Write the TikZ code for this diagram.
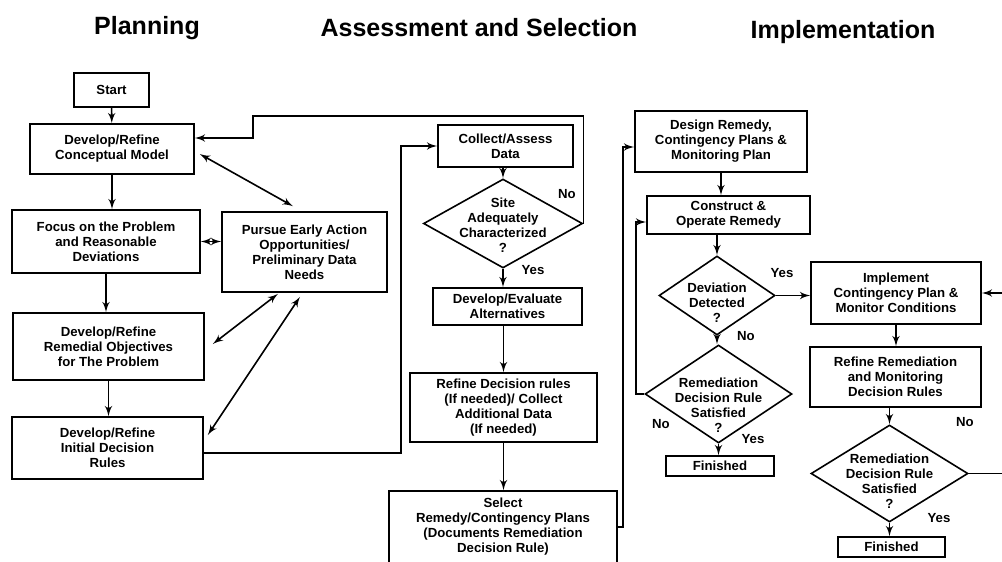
\documentclass[tikz,border=0pt]{standalone}
\usepackage{fontspec}
\setmainfont{Liberation Sans}
\usetikzlibrary{arrows,calc,shapes.geometric}

\begin{document}
\begin{tikzpicture}[x=0.5pt, y=-0.5pt, >=latex', thick,
    every node/.style={font=\fontsize{6.6}{7.5}\selectfont\bfseries},
    box/.style={draw, rectangle, align=center, inner sep=1pt},
    dec/.style={draw, diamond, inner sep=0pt},
    dectext/.style={align=center, inner sep=0pt},
    head/.style={font=\fontsize{12.5}{14}\selectfont\bfseries},
    lbl/.style={inner sep=0pt}]
\useasboundingbox (0,0) rectangle (1002,562);
\clip (0,0) rectangle (1002,562);

% column heads
\node[head] (hplan) at (147,28) {Planning};
\node[head] (hassess) at (479,28) {Assessment and Selection};
\node[head] (himpl) at (843,32) {Implementation};

% planning
\node[box, minimum width=37.5pt, minimum height=17pt] (start) at (111.5,90) {Start};
\node[box, minimum width=82pt, minimum height=25pt] (concept) at (112,149) {Develop/Refine\\Conceptual Model};
\node[box, minimum width=94pt, minimum height=31.5pt] (focus) at (106,241.5) {Focus on the Problem\\and Reasonable\\Deviations};
\node[box, minimum width=82.5pt, minimum height=40pt] (pursue) at (304.5,252) {Pursue Early Action\\Opportunities/\\Preliminary Data\\Needs};
\node[box, minimum width=95.5pt, minimum height=33.5pt] (remobj) at (108.5,346.5) {Develop/Refine\\Remedial Objectives\\for The Problem};
\node[box, minimum width=95.5pt, minimum height=31pt] (initrules) at (107.5,448) {Develop/Refine\\Initial Decision\\Rules};

% assessment and selection
\node[box, minimum width=67.5pt, minimum height=21pt] (collect) at (505.5,146) {Collect/Assess\\Data};
\node[dec, minimum width=79.5pt, minimum height=44.5pt,
  label={[dectext, yshift=-0.8pt]center:Site\\Adequately\\Characterized\\?}] (site) at (503,223.5) {};
\node[box, minimum width=74.5pt, minimum height=18.5pt] (alts) at (507.5,306.5) {Develop/Evaluate\\Alternatives};
\node[box, minimum width=93.5pt, minimum height=34.5pt] (refine) at (503.5,407.5) {Refine Decision rules\\(If needed)/ Collect\\Additional Data\\(If needed)};
\node[box, minimum width=114pt, minimum height=36pt] (select) at (503,527) {Select\\Remedy/Contingency Plans\\(Documents Remediation\\Decision Rule)};

% implementation
\node[box, minimum width=86pt, minimum height=30.5pt] (design) at (721,141.5) {Design Remedy,\\Contingency Plans \&\\Monitoring Plan};
\node[box, minimum width=81.5pt, minimum height=19pt] (build) at (728.5,215) {Construct \&\\Operate Remedy};
\node[dec, minimum width=58pt, minimum height=39.5pt,
  label={[dectext, yshift=-3.7pt]center:Deviation\\Detected\\?}] (dev) at (717,295.5) {};
\node[dec, minimum width=73.5pt, minimum height=49pt,
  label={[dectext, yshift=-5.5pt]center:Remediation\\Decision Rule\\Satisfied\\?}] (remok) at (718.5,394) {};
\node[box, minimum width=54pt, minimum height=10pt, inner sep=0pt] (done) at (720,466) {Finished};
\node[box, minimum width=85pt, minimum height=31pt] (contplan) at (896,293) {Implement\\Contingency Plan \&\\Monitor Conditions};
\node[box, minimum width=85.5pt, minimum height=30pt] (refrules) at (895.5,377) {Refine Remediation\\and Monitoring\\Decision Rules};
\node[dec, minimum width=78.5pt, minimum height=48.5pt,
  label={[dectext, yshift=-3.8pt]center:Remediation\\Decision Rule\\Satisfied\\?}] (remok2) at (889.5,473.5) {};
\node[box, minimum width=53.5pt, minimum height=10pt, inner sep=0pt] (done2) at (891.5,547) {Finished};

% yes/no labels
\node[lbl] (sitno) at (567,194) {No};
\node[lbl] (sityes) at (533,270) {Yes};
\node[lbl] (devyes) at (782,273) {Yes};
\node[lbl] (devno) at (746,336) {No};
\node[lbl] (remno) at (661,424) {No};
\node[lbl] (remyes) at (753,439) {Yes};
\node[lbl] (rem2no) at (965,422) {No};
\node[lbl] (rem2yes) at (939,518) {Yes};

% corners of the loops
\coordinate (j1) at (401,146);
\coordinate (j2) at (253,116);
\coordinate (j3) at (623,147);
\coordinate (j4) at (636,222);
\coordinate (j5) at (1010,473.5);

% planning arrows
\draw[->] (start) -- (concept);
\draw[->] (concept.south) -- (concept.south |- focus.north);
\draw[<->] (focus.east) -- (focus.east -| pursue.west);
\draw[<->] ($(concept.east)+(5,5)$) -- ($(pursue.north)+(-11.5,-5)$);
\draw[->] (focus.south) -- (focus.south |- remobj.north);
\draw[<->] ($(remobj.east)+(8,-2.5)$) -- ($(pursue.south)+(-26.5,1)$);
\draw[<->] ($(initrules.east)+(4,-13)$) -- ($(pursue.south)+(-4.5,4)$);
\draw[->] (remobj.south) -- (remobj.south |- initrules.north);
\draw[->] ($(initrules.east)+(0,5)$) -| (j1) -- (collect.west);

% assessment arrows
\draw[->] (site.north |- collect.south) -- (site.north);
\draw[->] (site.east) |- (j2) |- ($(concept.east)+(0,-11)$);
\draw[->] (site.south) -- (site.south |- alts.north);
\draw[->] (refine.north |- alts.south) -- (refine.north);
\draw[->] (refine.south) -- (refine.south |- select.north);
\draw[->] (select.east) -| (j3) -- (j3 -| design.west);

% implementation arrows
\draw[->] (design.south) -- (design.south |- build.north);
\draw[->] (build.south -| dev.north) -- (dev.north);
\draw[->] (dev.south) -- (dev.south |- remok.north);
\draw[->] (remok.south) -- (remok.south |- done.north);
\draw[->] (remok.west) -| (j4) -- (j4 -| build.west);
\draw[->] (dev.east) -- (dev.east -| contplan.west);
\draw[->] (contplan.south) -- (contplan.south |- refrules.north);
\draw[->] (refrules.south -| remok2.north) -- (remok2.north);
\draw[->] (remok2.south) -- (remok2.south |- done2.north);
\draw[->] (remok2.east) -- (j5) |- (contplan.east);
\end{tikzpicture}
\end{document}
